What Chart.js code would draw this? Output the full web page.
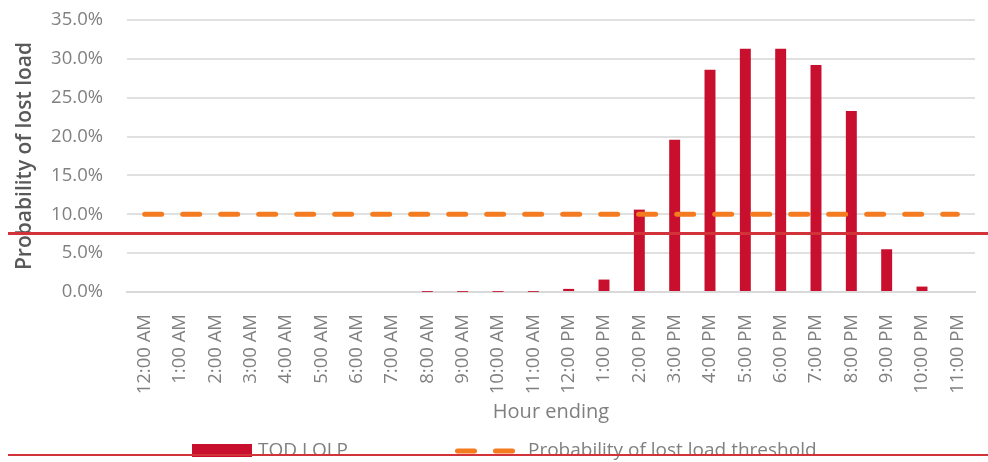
<!DOCTYPE html>
<html>
<head>
<meta charset="utf-8">
<script src="https://cdn.jsdelivr.net/npm/chart.js@4"></script>
<style>
  html, body { margin: 0; padding: 0; background: #ffffff; }
  #wrap { position: relative; width: 988px; height: 462px; }
  .rule { position: absolute; background: #d2323a; }
</style>
</head>
<body>
<div id="wrap">
  <canvas id="c"></canvas>
  <div class="rule" style="left:8px; top:232px; width:980px; height:3px;"></div>
  <div class="rule" style="left:8px; top:454px; width:980px; height:2px;"></div>
</div>
<script>
const hours = ['12:00 AM','1:00 AM','2:00 AM','3:00 AM','4:00 AM','5:00 AM','6:00 AM','7:00 AM','8:00 AM','9:00 AM','10:00 AM','11:00 AM',
               '12:00 PM','1:00 PM','2:00 PM','3:00 PM','4:00 PM','5:00 PM','6:00 PM','7:00 PM','8:00 PM','9:00 PM','10:00 PM','11:00 PM'];
const todLolp = [0,0,0,0,0,0,0,0,0.02,0.02,0.02,0.02,0.4,1.6,10.6,19.6,28.6,31.3,31.3,29.2,23.3,5.5,0.7,0];
const threshold = [10,10,10,10,10,10,10,10,10,10,10,10,10,10,10,10,10,10,10,10,10,10,10,10];
const seriesNames = ['TOD LOLP', 'Probability of lost load threshold'];
const yAxisTitle = 'Probability of lost load';
const xAxisTitle = 'Hour ending';

const BAR = '#c8102e';
const ORANGE = '#f47b20';
const FONT = "'Open Sans', 'DejaVu Sans', sans-serif";

const legendPlugin = {
  id: 'customLegend',
  afterDraw(chart) {
    const ctx = chart.ctx;
    const cy = 451;
    ctx.save();
    ctx.fillStyle = BAR;
    ctx.fillRect(192, 444, 60, 13);
    ctx.font = "19px " + FONT;
    ctx.fillStyle = '#808080';
    ctx.textBaseline = 'middle';
    ctx.textAlign = 'left';
    ctx.fillText(seriesNames[0], 258, cy);
    ctx.strokeStyle = ORANGE;
    ctx.lineWidth = 5;
    ctx.lineCap = 'round';
    ctx.setLineDash([17, 21]);
    ctx.beginPath();
    ctx.moveTo(457.5, cy);
    ctx.lineTo(513, cy);
    ctx.stroke();
    ctx.setLineDash([]);
    ctx.fillText(seriesNames[1], 528, cy);
    ctx.restore();
  }
};

new Chart(document.getElementById('c'), {
  data: {
    labels: hours,
    datasets: [
      {
        type: 'line',
        label: seriesNames[1],
        data: threshold,
        borderColor: ORANGE,
        backgroundColor: ORANGE,
        borderWidth: 5,
        borderDash: [17, 21],
        borderCapStyle: 'round',
        pointRadius: 0,
        pointHoverRadius: 0,
        fill: false,
        order: 0
      },
      {
        type: 'bar',
        label: seriesNames[0],
        data: todLolp,
        backgroundColor: BAR,
        borderWidth: 0,
        barPercentage: 0.62,
        categoryPercentage: 0.5,
        order: 1
      }
    ]
  },
  options: {
    responsive: true,
    maintainAspectRatio: false,
    animation: false,
    layout: { padding: { left: 0, right: 13, top: 20, bottom: 30 } },
    plugins: {
      legend: { display: false },
      tooltip: { enabled: false }
    },
    scales: {
      x: {
        grid: { display: false, drawTicks: false },
        border: { display: true, color: '#d9d9d9', width: 2 },
        ticks: {
          color: '#808080',
          font: { family: FONT, size: 18.5 },
          minRotation: 90,
          maxRotation: 90,
          padding: 22,
          autoSkip: false
        },
        title: {
          display: true,
          text: xAxisTitle,
          color: '#7f7f7f',
          font: { family: FONT, size: 20 },
          padding: { top: 0, bottom: 8 }
        },
        afterFit(s) {
          s.height = 140;
          s.paddingLeft = 0; s.paddingRight = 0; s.paddingTop = 0; s.paddingBottom = 0;
        }
      },
      y: {
        min: 0,
        max: 35,
        grid: { color: '#e0e0e0', lineWidth: 2, drawTicks: false },
        border: { display: false },
        ticks: {
          stepSize: 5,
          color: '#808080',
          font: { family: FONT, size: 18.5 },
          padding: 24,
          callback: v => v.toFixed(1) + '%'
        },
        title: {
          display: true,
          text: yAxisTitle,
          color: '#595959',
          font: { family: FONT, size: 21, weight: '600' },
          padding: { top: 12, bottom: 0 }
        },
        afterFit(s) {
          s.width = 127;
          s.paddingLeft = 0; s.paddingRight = 0; s.paddingTop = 0; s.paddingBottom = 0;
        }
      }
    }
  },
  plugins: [legendPlugin]
});
</script>
</body>
</html>
